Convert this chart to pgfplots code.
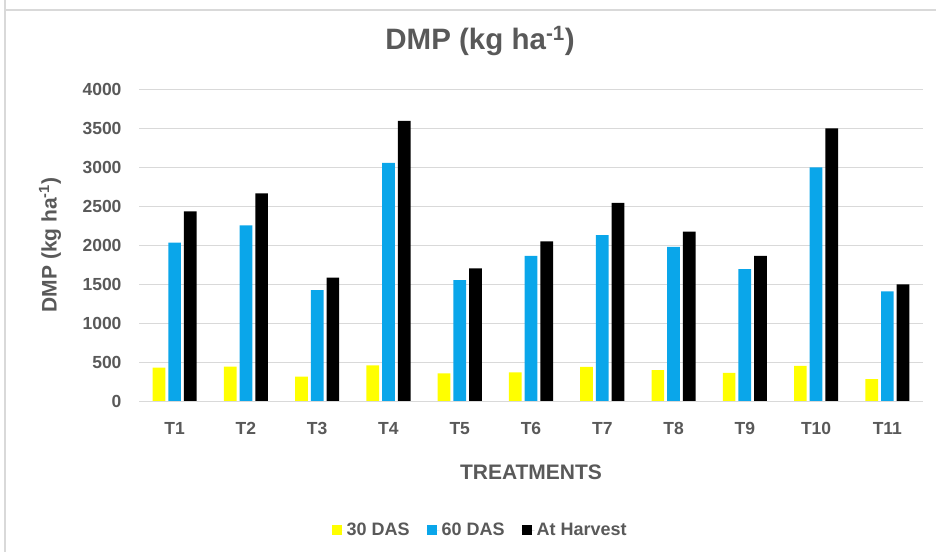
\documentclass[border=0pt]{standalone}
\usepackage{fontspec}
\setmainfont{Liberation Sans}
\usepackage{pgfplots}
\pgfplotsset{compat=1.18}
\definecolor{txt}{HTML}{595959}
\definecolor{gridc}{HTML}{D9D9D9}
\definecolor{cyel}{HTML}{FFFF00}
\definecolor{cblue}{HTML}{0AA6EA}
\definecolor{cblack}{HTML}{000000}
\begin{document}
\begin{tikzpicture}
\path[use as bounding box] (0,0) rectangle (936bp,552bp);
\draw[gridc, line width=1.5bp] (5bp,560bp) -- (5bp,542bp) -- (950bp,542bp);
\draw[gridc, line width=1.5bp] (5bp,542bp) -- (5bp,-10bp);
\begin{axis}[
  at={(139bp,151bp)}, anchor=south west,
  scale only axis, width=784bp, height=312bp,
  ybar=3bp, bar width=12.7bp,
  xmin=-0.5, xmax=10.5, ymin=0, ymax=4000,
  xtick=data,
  xticklabels={T1,T2,T3,T4,T5,T6,T7,T8,T9,T10,T11},
  ytick={0,500,1000,1500,2000,2500,3000,3500,4000},
  major tick length=0pt,
  axis x line*=bottom, axis y line*=left,
  x axis line style={draw=gridc, line width=1bp},
  y axis line style={draw=none},
  ymajorgrids, grid style={draw=gridc, line width=1bp},
  /pgf/number format/assume math mode=true,
  /pgf/number format/1000 sep={},
  scaled y ticks=false,
  yticklabel style={font=\fontsize{17.5bp}{20bp}\selectfont\bfseries, text=txt, xshift=-14bp},
  xticklabel style={font=\fontsize{17.5bp}{20bp}\selectfont\bfseries, text=txt, yshift=-18bp},
  xlabel={TREATMENTS},
  xlabel style={at={(axis description cs:0.5,-0.2276)}, anchor=center, font=\fontsize{21bp}{24bp}\selectfont\bfseries, text=txt},
  ylabel={DMP (kg ha\textsuperscript{-1})},
  ylabel style={at={(axis description cs:-0.1135,0.5)}, anchor=center, font=\fontsize{21bp}{24bp}\selectfont\bfseries, text=txt},
  title={DMP (kg ha\textsuperscript{-1})},
  title style={at={(axis description cs:0.435,1.1346)}, anchor=center, font=\fontsize{29.5bp}{33bp}\selectfont\bfseries, text=txt},
  legend columns=3,
  legend style={at={(axis description cs:0.435,-0.4135)}, anchor=center, draw=none, fill=none,
    font=\fontsize{18bp}{21bp}\selectfont\bfseries, text=txt,
    /tikz/every even column/.append style={column sep=15bp}},
  legend image code/.code={\fill[#1] (0bp,-5bp) rectangle (10bp,5bp); \path (0bp,0bp) -- (13bp,0bp);},
]
\addplot[fill=cyel, draw=none] coordinates {(0,427) (1,440) (2,312) (3,457) (4,355) (5,368) (6,436) (7,397) (8,359) (9,449) (10,282)};
\addplot[fill=cblue, draw=none] coordinates {(0,2030) (1,2252) (2,1423) (3,3052) (4,1551) (5,1859) (6,2128) (7,1975) (8,1692) (9,2996) (10,1406)};
\addplot[fill=cblack, draw=none] coordinates {(0,2432) (1,2663) (2,1581) (3,3590) (4,1701) (5,2047) (6,2539) (7,2171) (8,1859) (9,3496) (10,1496)};
\legend{30 DAS, 60 DAS, At Harvest}
\end{axis}
\end{tikzpicture}
\end{document}
